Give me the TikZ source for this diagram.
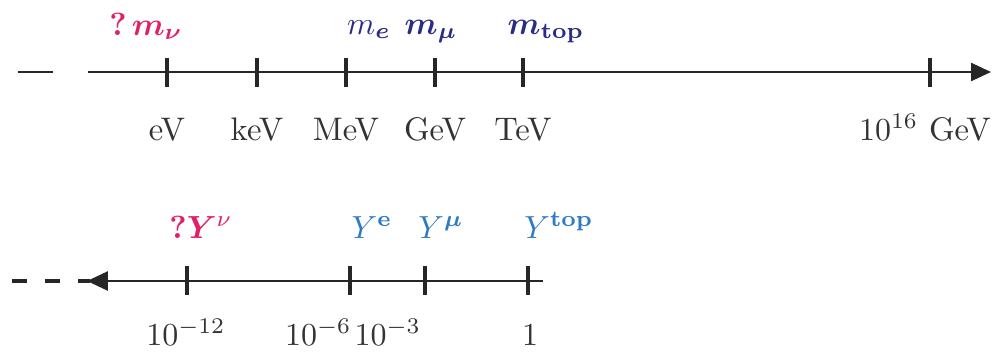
\documentclass[tikz,border=0pt]{standalone}
\usepackage{bm}
\usetikzlibrary{arrows.meta}
\definecolor{pinkc}{HTML}{E2206A}
\definecolor{navyc}{HTML}{2B2C85}
\definecolor{bluec}{HTML}{2F7BC3}
\definecolor{textc}{HTML}{333333}
\begin{document}
\begin{tikzpicture}[x=0.3125pt,y=-0.3125pt,
  every node/.style={font=\fontsize{10.2}{12}\selectfont, inner sep=0pt},
  axisline/.style={line width=0.85pt, draw=black!85},
  tickline/.style={line width=1.05pt, draw=black!85},
  dashline/.style={line width=1.15pt, draw=black!85},
  lab/.style={anchor=base, text=textc},
  toplab/.style={anchor=base}]
\useasboundingbox (0,0) rectangle (999,352);
% ---------- upper axis ----------
\coordinate (d0) at (18,72); \coordinate (d1) at (53,72);
\draw[dashline, line width=0.9pt] (d0) -- (d1);
\coordinate (a0) at (88,72); \coordinate (a1) at (991,72);
\draw[axisline, -{Triangle[length=6.25pt,width=5.6pt]}] (a0) -- (a1);
\foreach \x/\n in {167/ev,257/kev,346/mev,435/gev,523/tev,930/gut}{
  \coordinate (\n u) at (\x,58); \coordinate (\n d) at (\x,87);
  \draw[tickline] (\n u) -- (\n d);
}
\node[lab] (leV) at (167,140) {eV};
\node[lab] (lkeV) at (257,140) {keV};
\node[lab] (lMeV) at (346,140) {MeV};
\node[lab] (lGeV) at (435,140) {GeV};
\node[lab] (lTeV) at (523,140) {TeV};
\node[lab] (lGUT) at (925,140) {$10^{16}$ GeV};
\node[toplab, text=pinkc] (mnu) at (146,35) {$\bm{?\,m_\nu}$};
\node[toplab, text=navyc] (me) at (369,34) {$m_{\bm e}$};
\node[toplab, text=navyc] (mmu) at (431,34) {$\bm{m_\mu}$};
\node[toplab, text=navyc] (mtop) at (546,34) {$\bm{m_{\mathbf{top}}}$};
% ---------- lower axis ----------
\coordinate (e0) at (12,281); \coordinate (e1) at (90,281);
\draw[dashline, dash pattern=on 4.7pt off 5.6pt] (e0) -- (e1);
\coordinate (b0) at (543,281); \coordinate (b1) at (87,281);
\draw[axisline, -{Triangle[length=6.5pt,width=5.9pt]}] (b0) -- (b1);
\foreach \x/\n in {187/ynu,350/ye,425/ymu,528/yt}{
  \coordinate (\n u) at (\x,266); \coordinate (\n d) at (\x,295);
  \draw[tickline] (\n u) -- (\n d);
}
\node[toplab, text=pinkc] (Ynu) at (201,238) {$\bm{?Y}^{\nu}$};
\node[toplab, text=bluec] (Ye) at (372,238) {$Y^{\mathbf e}$};
\node[toplab, text=bluec] (Ymu) at (441,238) {$Y^{\bm\mu}$};
\node[toplab, text=bluec] (Ytop) at (559,238) {$Y^{\mathbf{top}}$};
\node[lab] (l12) at (186,345) {$10^{-12}$};
\node[lab, anchor=base east] (l6) at (352,345) {$10^{-6}$};
\node[lab, anchor=base west] (l3) at (354,345) {$10^{-3}$};
\node[lab] (l1) at (530,345) {$1$};
\end{tikzpicture}
\end{document}
